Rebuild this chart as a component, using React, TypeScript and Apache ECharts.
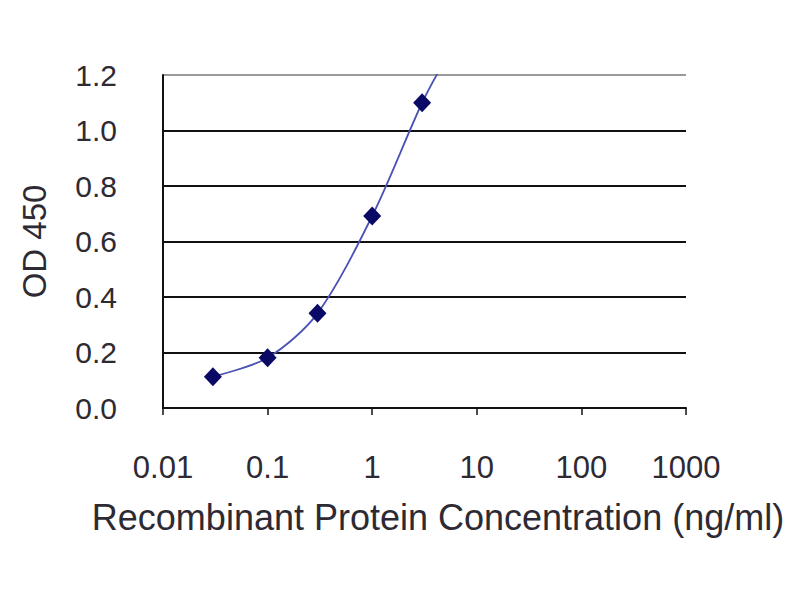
import React, { useEffect, useRef } from "react";
import * as echarts from "echarts";

// Measured points (concentration ng/ml, OD 450)
const CONC = [0.03, 0.1, 0.3, 1, 3];
const OD = [0.113, 0.181, 0.341, 0.692, 1.1];
// Fitted curve as seen in the picture (continues past the top of the plot)
const CURVE_X = [0.03, 0.1, 0.3, 1, 3, 4.9];
const CURVE_Y = [0.113, 0.181, 0.341, 0.692, 1.1, 1.25];
const X_TICK_LABELS = ["0.01", "0.1", "1", "10", "100", "1000"];
const Y_TICKS = [0, 0.2, 0.4, 0.6, 0.8, 1.0, 1.2];

export default function App() {
  const ref = useRef<HTMLDivElement>(null);
  useEffect(() => {
    document.body.style.margin = "0";
    if (!ref.current) return;
    const chart = echarts.init(ref.current, undefined, { renderer: "svg" });
    const font = "Arial, 'Liberation Sans', sans-serif";
    const txt = "#2e2a33";
    chart.setOption({
      animation: false,
      backgroundColor: "#ffffff",
      grid: { left: 163, top: 75, right: 114, bottom: 192, containLabel: false },
      xAxis: {
        type: "log",
        logBase: 10,
        min: 0.01,
        max: 1000,
        name: "Recombinant Protein Concentration (ng/ml)",
        nameLocation: "middle",
        nameGap: 91,
        nameTextStyle: { fontFamily: font, fontSize: 36, color: txt, padding: [0, 0, 0, 27] },
        axisLine: { lineStyle: { color: "#111", width: 2 } },
        axisTick: { show: true, inside: false, length: 7, lineStyle: { color: "#111", width: 1.5 } },
        minorTick: { show: false },
        splitLine: { show: false },
        axisLabel: {
          fontFamily: font,
          fontSize: 31,
          color: txt,
          margin: 44,
          formatter: (v: number) => {
            const i = Math.round(Math.log10(v)) + 2;
            return X_TICK_LABELS[i] ?? "";
          },
        },
      },
      yAxis: {
        type: "value",
        min: Y_TICKS[0],
        max: Y_TICKS[Y_TICKS.length - 1],
        interval: 0.2,
        name: "OD 450",
        nameLocation: "middle",
        nameGap: 112,
        nameRotate: 90,
        nameTextStyle: { fontFamily: font, fontSize: 33, color: txt },
        axisLine: { show: true, lineStyle: { color: "#111", width: 2 } },
        axisTick: { show: false },
        splitLine: {
          show: true,
          lineStyle: {
            color: ["#111", "#111", "#111", "#111", "#111", "#111", "#9a9a9a"],
            width: 2,
          },
        },
        axisLabel: {
          fontFamily: font,
          fontSize: 30,
          color: txt,
          margin: 46,
          formatter: (v: number) => v.toFixed(1),
        },
      },
      series: [
        {
          type: "line",
          name: "fit",
          data: CURVE_X.map((x, i) => [x, CURVE_Y[i]]),
          smooth: 0.3,
          showSymbol: false,
          symbol: "none",
          clip: true,
          lineStyle: { color: "#4a52b4", width: 1.8 },
          z: 2,
        },
        {
          type: "scatter",
          name: "data",
          data: CONC.map((x, i) => [x, OD[i]]),
          symbol: "diamond",
          symbolSize: [18, 19],
          itemStyle: { color: "#0a0a66", opacity: 1 },
          z: 3,
        },
      ],
    });
    return () => chart.dispose();
  }, []);
  return <div ref={ref} style={{ width: 800, height: 600 }} />;
}
